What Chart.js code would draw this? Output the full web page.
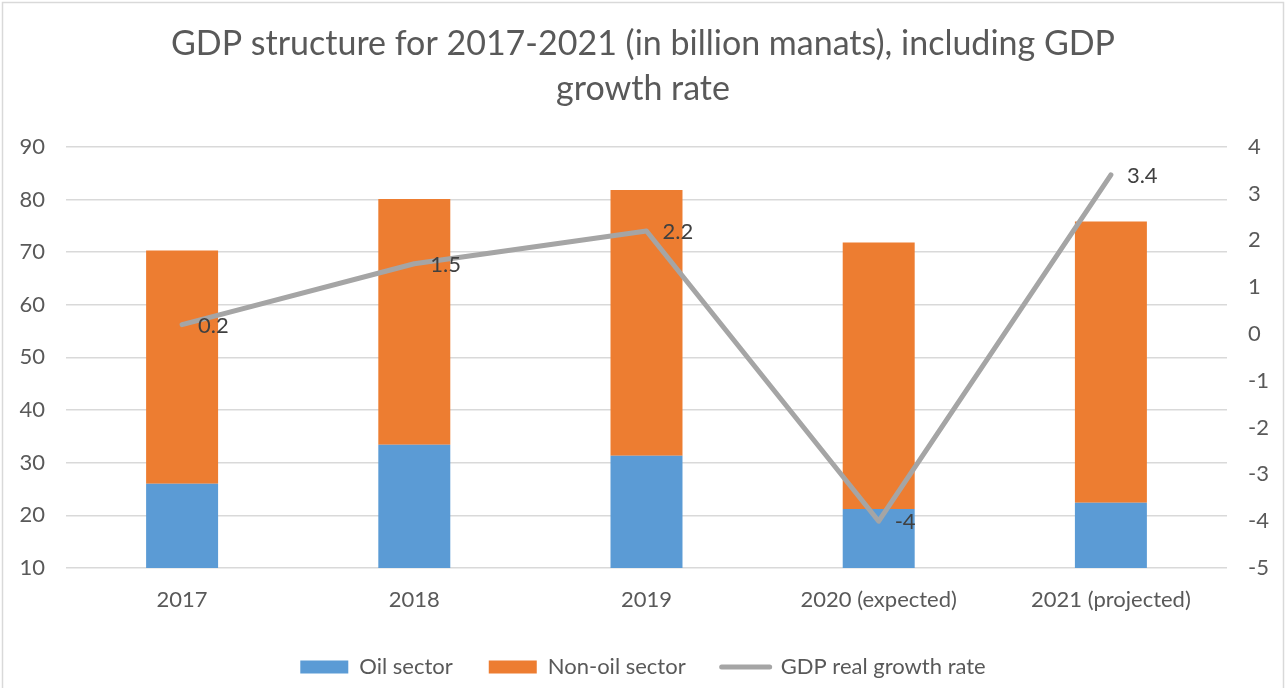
<!DOCTYPE html>
<html>
<head>
<meta charset="utf-8">
<script src="https://cdn.jsdelivr.net/npm/chart.js@4"></script>
<style>
  html, body { margin: 0; padding: 0; background: #fff; }
  #wrap { width: 1286px; height: 688px; }
</style>
</head>
<body>
<div id="wrap"><canvas id="gdpChart" width="1286" height="688"></canvas></div>
<script>
// data
const years = ["2017", "2018", "2019", "2020 (expected)", "2021 (projected)"]
const oilSector = [26.0, 33.4, 31.3, 21.2, 22.4]
const nonOilSector = [44.3, 46.7, 50.5, 50.6, 53.4]
const growthRate = [0.2, 1.5, 2.2, -4, 3.4]
const leftTicks = [10, 90, 10]   // min, max, step
const rightTicks = [-5, 4, 1]

const textGrey = "#595959"
const fontName = "Lato, 'Open Sans', sans-serif"

// frame round the whole chart
const framePlugin = {
    id: "frame",
    beforeDraw(chart){
        let ctx = chart.ctx
        ctx.save()
        ctx.fillStyle = "#fff"
        ctx.fillRect(0, 0, chart.width, chart.height)
        ctx.strokeStyle = "#D9D9D9"
        ctx.lineWidth = 1.5
        ctx.strokeRect(2.5, 2.5, chart.width - 5, chart.height + 20)
        ctx.restore()
    }
}

// values next to the growth-rate points
const lineLabels = {
    id: "lineLabels",
    afterDatasetsDraw(chart){
        let ctx = chart.ctx
        let meta = chart.getDatasetMeta(2)
        ctx.save()
        ctx.font = "22px " + fontName
        ctx.fillStyle = "#404040"
        ctx.textAlign = "left"
        ctx.textBaseline = "middle"
        meta.data.forEach((pt, i) => {
            ctx.fillText(String(growthRate[i]), pt.x + 16, pt.y + 1)
        })
        ctx.restore()
    }
}

new Chart(document.getElementById("gdpChart"), {
    type: "bar",
    data: {
        labels: years,
        datasets: [
            {
                label: "Oil sector",
                data: oilSector,
                backgroundColor: "#5B9BD5",
                categoryPercentage: 1,
                barPercentage: 0.31,
                yAxisID: "y",
                order: 1
            },
            {
                label: "Non-oil sector",
                data: nonOilSector,
                backgroundColor: "#ED7D31",
                categoryPercentage: 1,
                barPercentage: 0.31,
                yAxisID: "y",
                order: 1
            },
            {
                type: "line",
                label: "GDP real growth rate",
                data: growthRate,
                borderColor: "#A5A5A5",
                backgroundColor: "#A5A5A5",
                borderWidth: 5,
                borderCapStyle: "round",
                borderJoinStyle: "round",
                pointRadius: 0,
                tension: 0,
                yAxisID: "y1",
                order: 0
            }
        ]
    },
    options: {
        responsive: false,
        animation: false,
        layout: { padding: 0 },
        plugins: {
            title: {
                display: true,
                text: ["GDP structure for 2017-2021 (in billion manats), including GDP", "growth rate"],
                color: textGrey,
                font: { family: fontName, size: 34, weight: "normal", lineHeight: 1.32 },
                padding: { top: 22, bottom: 35 }
            },
            legend: {
                position: "bottom",
                labels: {
                    color: textGrey,
                    font: { family: fontName, size: 22 },
                    usePointStyle: true,
                    pointStyleWidth: 48,
                    boxHeight: 13,
                    padding: 36,
                    sort: (a, b) => a.datasetIndex - b.datasetIndex,
                    generateLabels(chart){
                        let items = Chart.defaults.plugins.legend.labels.generateLabels(chart)
                        for(let item of items){
                            if(item.datasetIndex == 2){
                                item.pointStyle = "line"
                                item.lineWidth = 5
                                item.strokeStyle = "#A5A5A5"
                                item.lineCap = "round"
                            } else {
                                item.pointStyle = "rect"
                                item.lineWidth = 0
                            }
                        }
                        return items
                    }
                }
            },
            tooltip: { enabled: false }
        },
        scales: {
            x: {
                stacked: true,
                grid: { display: false },
                border: { display: false },
                ticks: { color: textGrey, font: { family: fontName, size: 22 }, padding: 11 },
                afterFit(scale){ scale.height = 52 }
            },
            y: {
                stacked: true,
                position: "left",
                min: leftTicks[0],
                max: leftTicks[1],
                ticks: { stepSize: leftTicks[2], color: textGrey, font: { family: fontName, size: 22 }, padding: 21 },
                grid: { color: "#D9D9D9", lineWidth: 1.5, drawTicks: false },
                border: { display: false },
                afterFit(scale){ scale.width = 66 }
            },
            y1: {
                position: "right",
                min: rightTicks[0],
                max: rightTicks[1],
                ticks: { stepSize: rightTicks[2], color: textGrey, font: { family: fontName, size: 22 }, padding: 21 },
                grid: { display: false, drawTicks: false },
                border: { display: false },
                afterFit(scale){ scale.width = 59 }
            }
        }
    },
    plugins: [framePlugin, lineLabels]
})
</script>
</body>
</html>
